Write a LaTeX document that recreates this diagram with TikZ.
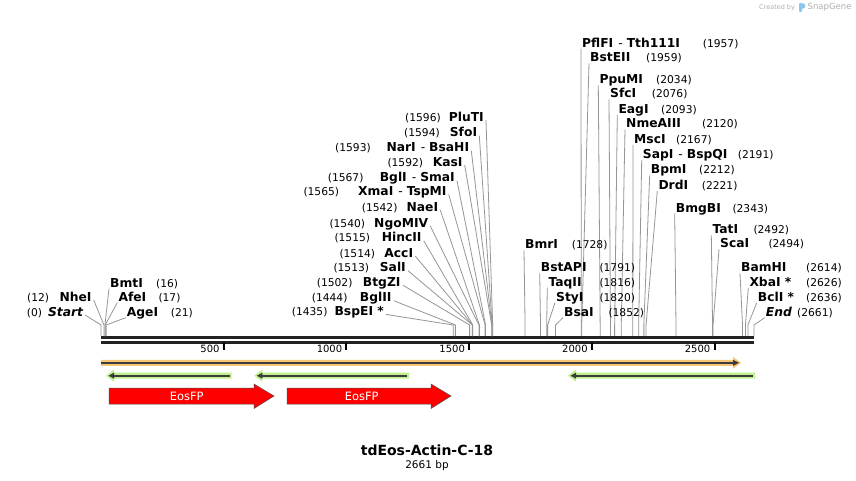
\documentclass[tikz,border=0pt]{standalone}
\usepackage{fontspec}
\setmainfont{DejaVu Sans}
\newcommand\dsh{\hspace{5pt}\textmd{-}\hspace{4pt}}
\definecolor{siteg}{RGB}{150,150,150}
\definecolor{bbc}{RGB}{34,34,34}
\definecolor{orfill}{RGB}{247,197,115}
\definecolor{grfill}{RGB}{190,240,140}
\definecolor{darkline}{RGB}{60,60,60}
\definecolor{eosred}{RGB}{255,0,0}
\definecolor{wmgrey}{RGB}{175,175,175}
\definecolor{snapblue}{RGB}{140,200,235}
\begin{document}
\begin{tikzpicture}[x=1pt,y=-1pt,
  sname/.style={inner sep=0pt, font=\fontsize{12.3}{14}\selectfont\bfseries},
  snum/.style={inner sep=0pt, font=\fontsize{10.7}{12}\selectfont},
  siteline/.style={draw=siteg, line width=0.8pt},
  ticklab/.style={inner sep=0pt, font=\fontsize{10}{12}\selectfont},
  backbone/.style={draw=bbc, line width=3pt},
  featline/.style={draw=darkline, line width=1.8pt},
  eosarrow/.style={fill=eosred, draw=black!70, line width=0.5pt},
  eoslab/.style={inner sep=0pt, text=white, font=\fontsize{11.5}{13}\selectfont}]
\useasboundingbox (0,0) rectangle (856,481);
\fill[white] (0,0) rectangle (856,481);

% watermark
\node[anchor=west, inner sep=0pt, text=wmgrey, font=\fontsize{6.5}{8}\selectfont] (cb) at (759,7.3) {Created by};
\fill[snapblue, rounded corners=0.8pt] (799,3) rectangle (802,12);
\fill[snapblue] (802,3) -- (805,4.5) -- (805,7.5) -- (802,9) -- cycle;
\node[anchor=west, inner sep=0pt, text=wmgrey, font=\fontsize{8.5}{10}\selectfont] (sg) at (807.5,7.3) {SnapGene};

% backbone
\coordinate (bbL) at (101,337.5);
\coordinate (bbR) at (754,337.5);
\draw[backbone] (bbL) -- (bbR);
\draw[backbone] (101,342.5) -- (754,342.5);

% ticks
\foreach \t in {500,1000,1500,2000,2500} {
  \coordinate (t\t) at ({101+0.2454*\t},343);
  \draw[black, line width=2pt] (t\t) -- ++(0,6.5);
  \node[ticklab, anchor=base east] (tl\t) at ({101+0.2454*\t-4},352.6) {\t};
}

% right-side labels
\foreach \id/\pos/\lx/\ly/\nx/\txt/\num in {
  r1/1957/582/42.7/702.7/{PflFI\dsh Tth111I}/1957,
  r2/1959/590/57.3/646/{BstEII}/1959,
  r3/2034/599.3/79.3/656/{PpuMI}/2034,
  r4/2076/610/93.3/651.7/{SfcI}/2076,
  r5/2093/618.3/109/661/{EagI}/2093,
  r6/2120/626/123.3/702/{NmeAIII}/2120,
  r7/2167/634/139/676/{MscI}/2167,
  r8/2191/642.7/154/737.7/{SapI\dsh BspQI}/2191,
  r9/2212/650.7/169.3/699/{BpmI}/2212,
  r10/2221/658.3/185/701.7/{DrdI}/2221,
  r11/2343/675.7/207.7/732.3/{BmgBI}/2343,
  r12/2492/712.3/229.3/753.3/{TatI}/2492,
  r13/2494/720/243.3/768.3/{ScaI}/2494,
  r14/1728/525/244.3/571.7/{BmrI}/1728,
  r15/1791/540.7/267.3/599.3/{BstAPI}/1791,
  r16/1816/548.3/281.7/599.3/{TaqII}/1816,
  r17/1820/556/296.7/599.3/{StyI}/1820,
  r18/1852/564/311.7/608.3/{BsaI}/1852,
  r19/2614/741/267.3/806/{BamHI}/2614,
  r20/2626/749.3/282/806/{XbaI *}/2626,
  r21/2636/757.7/297/806/{BclI *}/2636,
  r22/2661/765.7/311.7/797/{\itshape End}/2661,
  r23/16/110/282.7/156/{BmtI}/16,
  r24/17/118.3/296.7/158.3/{AfeI}/17,
  r25/21/126.7/311.7/170.7/{AgeI}/21} {
  \node[sname, anchor=base west] (n\id) at (\lx,\ly+4.4) {\txt};
  \node[snum, anchor=base west] (m\id) at (\nx,\ly+4.4) {(\num)};
  \coordinate (k\id) at ({101+0.2454*\pos},325);
  \coordinate (a\id) at ({101+0.2454*\pos},336);
  \draw[siteline] ([shift={(-1,1.6)}]n\id.base west) -- (k\id) -- (a\id);
}

% left-side labels
\foreach \id/\pos/\rx/\ly/\nx/\txt/\num in {
  l1/1596/484/116.7/405/{PluTI}/1596,
  l2/1594/477.3/132.3/404/{SfoI}/1594,
  l3/1593/469.3/147.3/335/{NarI\dsh BsaHI}/1593,
  l4/1592/462.7/161.7/387.3/{KasI}/1592,
  l5/1567/455/177.3/327.7/{BglI\dsh SmaI}/1567,
  l6/1565/446.7/191/303.3/{XmaI\dsh TspMI}/1565,
  l7/1542/438.3/206.7/361.7/{NaeI}/1542,
  l8/1540/428.3/222.7/329.3/{NgoMIV}/1540,
  l9/1515/421.7/237.3/334.3/{HincII}/1515,
  l10/1514/413.3/252.7/339.3/{AccI}/1514,
  l11/1513/406/267.3/333.3/{SalI}/1513,
  l12/1502/400.7/281.7/316.7/{BtgZI}/1502,
  l13/1444/391.7/297.3/311.7/{BglII}/1444,
  l14/1435/384/311/291.7/{BspEI *}/1435,
  l15/12/91.7/296.7/27/{NheI}/12,
  l16/0/83.3/311.7/26.7/{\itshape Start}/0} {
  \node[sname, anchor=base east] (n\id) at (\rx,\ly+4.4) {\txt};
  \node[snum, anchor=base west] (m\id) at (\nx,\ly+4.4) {(\num)};
  \coordinate (k\id) at ({101+0.2454*\pos},325);
  \coordinate (a\id) at ({101+0.2454*\pos},336);
  \draw[siteline] ([shift={(2,-1)}]n\id.base east) -- (k\id) -- (a\id);
}

% orange feature
\fill[orfill] (101,359.8) -- (733,359.8) -- (733,356.8) -- (741,362.8) -- (733,368.8) -- (733,365.8) -- (101,365.8) -- cycle;
\draw[featline] (101,362.8) -- (735,362.8);
\fill[darkline] (733,359.8) -- (739,362.8) -- (733,365.8) -- cycle;

% green features (pointing left)
\foreach \a/\b in {106/231.7, 254.3/409, 568/755} {
  \fill[grfill] (\a,375.7) -- (\a+8,369.7) -- (\a+8,372.7) -- (\b,372.7) -- (\b,378.7) -- (\a+8,378.7) -- (\a+8,381.7) -- cycle;
  \draw[featline] (\a+5,375.7) -- (\b-2,375.7);
  \fill[darkline] (\a+2.5,375.7) -- (\a+8,372.7) -- (\a+8,378.7) -- cycle;
}

% EosFP arrows
\foreach \nm/\a/\h/\b/\cx in {e1/109/254/274/186.7, e2/287/431/451/361.7} {
  \filldraw[eosarrow] (\a,388) -- (\h,388) -- (\h,384) -- (\b,396) -- (\h,408.5) -- (\h,404) -- (\a,404) -- cycle;
  \node[eoslab] (\nm) at (\cx,396) {EosFP};
}

% title
\node[inner sep=0pt, font=\fontsize{14}{16}\selectfont\bfseries] (title) at (427,450) {tdEos-Actin-C-18};
\node[inner sep=0pt, font=\fontsize{10.5}{12}\selectfont] (bp) at (427,465.5) {2661 bp};
\end{tikzpicture}
\end{document}
